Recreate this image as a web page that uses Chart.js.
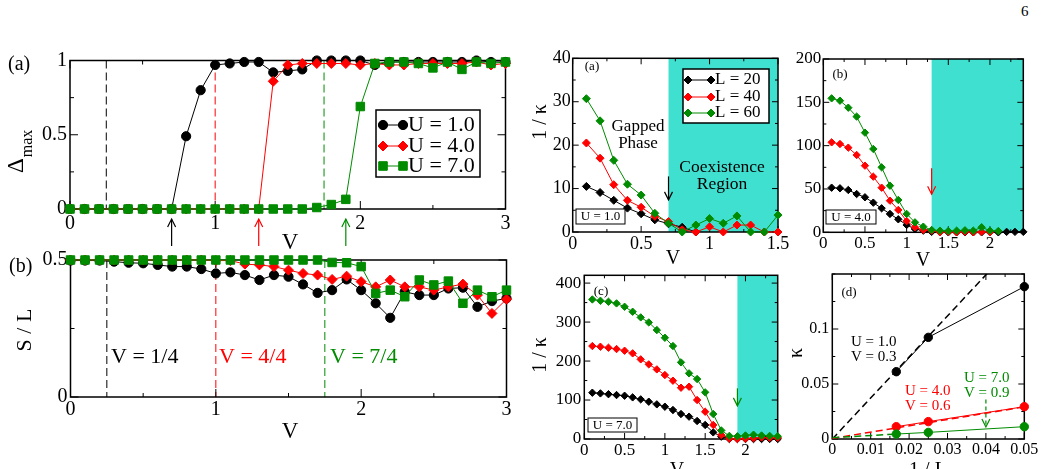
<!DOCTYPE html>
<html>
<head>
<meta charset="utf-8">
<script src="https://cdn.jsdelivr.net/npm/chart.js@4.4.0/dist/chart.umd.min.js"></script>
<style>
  html, body { margin: 0; padding: 0; background: #fff; width: 1044px; height: 469px; overflow: hidden; }
  canvas { position: absolute; left: 0; top: 0; }
  #pageNo { position: absolute; left: 1021px; top: 3px; font: 15px "Liberation Serif", serif; }
</style>
</head>
<body>
<div id="pageNo">6</div>
<canvas id="cLA" width="1044" height="469"></canvas>
<canvas id="cLB" width="1044" height="469"></canvas>
<canvas id="cRA" width="1044" height="469"></canvas>
<canvas id="cRB" width="1044" height="469"></canvas>
<canvas id="cRC" width="1044" height="469"></canvas>
<canvas id="cRD" width="1044" height="469"></canvas>
<script>
const FAM = '"Liberation Serif", "Times New Roman", serif';
const BLACK = '#000000', RED = '#ff0000', GREEN = '#008b00', TEAL = '#40e0d0';

// ---- left column: Delta_max and S/L vs V
const vLeft = [0, 0.1, 0.2, 0.3, 0.4, 0.5, 0.6, 0.7, 0.8, 0.9, 1, 1.1, 1.2, 1.3, 1.4, 1.5,
  1.6, 1.7, 1.8, 1.9, 2, 2.1, 2.2, 2.3, 2.4, 2.5, 2.6, 2.7, 2.8, 2.9, 3];
const dmaxU1 = [0, 0, 0, 0, 0, 0, 0, 0, 0.49, 0.80, 0.97, 0.98, 0.99, 0.99, 0.92, 0.93,
  0.94, 1.0, 1.0, 1.0, 1.0, 0.97, 0.99, 0.99, 0.99, 0.99, 0.99, 0.99, 1.0, 0.99, 0.99];
const dmaxU4 = [0, 0, 0, 0, 0, 0, 0, 0, 0, 0, 0, 0, 0, 0, 0.86, 0.97,
  0.98, 0.98, 0.98, 0.98, 0.97, 0.98, 0.97, 0.97, 0.98, 0.98, 0.98, 0.98, 0.99, 0.97, 0.98];
const dmaxU7 = [0, 0, 0, 0, 0, 0, 0, 0, 0, 0, 0, 0, 0, 0, 0, 0,
  0, 0.01, 0.03, 0.065, 0.69, 0.98, 0.99, 0.99, 0.98, 0.95, 0.99, 0.94, 0.99, 0.98, 0.99];
const slU1 = [0.498, 0.498, 0.498, 0.494, 0.490, 0.488, 0.482, 0.476, 0.476, 0.467, 0.451,
  0.455, 0.445, 0.427, 0.445, 0.439, 0.411, 0.380, 0.390, 0.429, 0.39, 0.342, 0.289,
  0.384, 0.372, 0.372, 0.396, 0.399, 0.329, 0.35, 0.36];
const slU4 = [0.5, 0.5, 0.5, 0.5, 0.5, 0.5, 0.5, 0.5, 0.5, 0.5, 0.498, 0.498, 0.485, 0.482,
  0.476, 0.463, 0.451, 0.445, 0.429, 0.441, 0.421, 0.402, 0.427, 0.402, 0.402, 0.39,
  0.402, 0.412, 0.372, 0.305, 0.357];
const slU7 = [0.5, 0.5, 0.5, 0.5, 0.5, 0.5, 0.5, 0.5, 0.5, 0.5, 0.5, 0.5, 0.5, 0.5, 0.5, 0.5,
  0.5, 0.5, 0.491, 0.49, 0.476, 0.378, 0.39, 0.366, 0.427, 0.409, 0.423, 0.342, 0.39, 0.366, 0.39];
const uLabels = ['U = 1.0', 'U = 4.0', 'U = 7.0'];
const vCrit = [0.25, 1, 1.75];
const vArrow = [0.7, 1.3, 1.9];

// ---- right column: 1/kappa vs V
const vA = [0.1, 0.2, 0.3, 0.4, 0.5, 0.6, 0.7, 0.8, 0.9, 1, 1.1, 1.2, 1.3, 1.4, 1.5];
const ikA20 = [10.5, 9.1, 7.3, 5.5, 4.2, 2.8, 1.9, 1.1, 0];
const ikA40 = [20.5, 17, 10.9, 7.3, 5.7, 3.6, 2.4, 0.5, 0, 1.2, 0, 1.6, 1.6, 0, 0];
const ikA60 = [30.7, 25.6, 16.5, 11, 8.5, 4.3, 2.0, 0, 1.6, 3.1, 2.0, 3.7, 0, 0, 3.9];
const vBC = [0.1, 0.2, 0.3, 0.4, 0.5, 0.6, 0.7, 0.8, 0.9, 1, 1.1, 1.2, 1.3, 1.4, 1.5, 1.6,
  1.7, 1.8, 1.9, 2, 2.1, 2.2, 2.3, 2.4];
const ikB20 = [51.5, 50.8, 48.8, 44.2, 40.4, 34.2, 27.7, 21.2, 15, 8.5, 3.8, 1.9, 0.5, 0, 0, 0,
  0, 0, 0, 0, 0, 0.5, 0.5, 0.5];
const ikB40 = [103.8, 101.9, 97.7, 89.2, 76.9, 64.2, 51.5, 36.5, 25.8, 13, 5.8, 2.7, 1.9, 0,
  0.5, 0, 0.5, 0, 0.5, 0];
const ikB60 = [154.6, 151.9, 143.8, 133.5, 115, 96.2, 75, 53.8, 37.3, 21.2, 11.5, 6.5, 2.7, 1.9,
  1.5, 1.9, 2.3, 1.9, 5.8, 1.9, 1.5];
const ikC20 = [118.8, 117, 115, 112.8, 111, 106.8, 101.7, 95.7, 88.9, 82.9, 74.4, 64.1, 57.3,
  46.2, 36, 17, 6, 0, 0, 0, 0, 0, 0, 0];
const ikC40 = [238.5, 236.8, 234.2, 230.8, 226.5, 219.7, 204.3, 191.5, 178.6, 164.1, 149.6,
  131.6, 134.2, 100, 70, 36, 10.3, 1, 0, 1, 2, 4, 3, 3];
const ikC60 = [358, 354.7, 352.1, 347.9, 339.3, 326.5, 312, 299.1, 279.5, 259.8, 238.5, 196.6,
  168.4, 153.8, 119.7, 64.1, 22, 8, 7, 9, 11, 9, 8, 7];
const lLabels = ['L = 20', 'L = 40', 'L = 60'];
const coexStart = [0.7, 1.3, 1.9];

// ---- (d): kappa vs 1/L
const invL = [1 / 60, 1 / 40, 1 / 20];
const kapU1 = [0.0612, 0.0924, 0.1385];
const kapU4 = [0.0112, 0.0158, 0.0294];
const kapU7 = [0.0045, 0.006, 0.0112];
const fitX = [0, 0.05];
const fitU1 = [0, 0.1865];
const fitU4 = [0.0005, 0.0292];
const fitX7 = [0, 1 / 60];
const fitU7 = [0.0012, 0.0045];

// fixed axis box sizes so every chart area lands where it should
const YW = 40, XH = 28;

function series(xs, ys, color, style, r, extra) {
  return Object.assign({
    data: ys.map((y, i) => ({ x: xs[i], y: y })),
    borderColor: color, backgroundColor: color, borderWidth: 1,
    pointStyle: style, pointRadius: r, pointBorderWidth: 1,
    showLine: true, clip: false
  }, extra || {});
}

function text(ctx, s, x, y, o) {
  o = o || {};
  ctx.save();
  ctx.font = (o.size || 16) + 'px ' + FAM;
  ctx.fillStyle = o.color || BLACK;
  ctx.textAlign = o.align || 'left';
  ctx.textBaseline = 'middle';
  if (o.rot) { ctx.translate(x, y); ctx.rotate(-Math.PI / 2); ctx.fillText(s, 0, 0); }
  else ctx.fillText(s, x, y);
  ctx.restore();
}

function arrow(ctx, x, y0, y1, color, dashed) {
  ctx.save();
  ctx.strokeStyle = color; ctx.lineWidth = 1.2;
  if (dashed) ctx.setLineDash([4, 3]);
  ctx.beginPath(); ctx.moveTo(x, y0); ctx.lineTo(x, y1); ctx.stroke();
  ctx.setLineDash([]);
  const d = y1 > y0 ? -1 : 1;
  ctx.beginPath();
  ctx.moveTo(x - 4, y1 + d * 8); ctx.lineTo(x, y1); ctx.lineTo(x + 4, y1 + d * 8);
  ctx.stroke();
  ctx.restore();
}

function boxLabel(ctx, s, l, t, r, b, size) {
  ctx.save();
  ctx.strokeStyle = BLACK; ctx.lineWidth = 1;
  ctx.fillStyle = '#fff';
  ctx.fillRect(l, t, r - l, b - t);
  ctx.strokeRect(l, t, r - l, b - t);
  ctx.restore();
  text(ctx, s, (l + r) / 2, (t + b) / 2 + 0.5, { size: size, align: 'center' });
}

function legend(ctx, chart, order, box, rows, x0, x1, tx, size) {
  ctx.save();
  ctx.fillStyle = '#fff';
  ctx.fillRect(box[0], box[1], box[2] - box[0], box[3] - box[1]);
  ctx.strokeStyle = BLACK; ctx.lineWidth = 1.5;
  ctx.strokeRect(box[0], box[1], box[2] - box[0], box[3] - box[1]);
  order.forEach((di, k) => {
    const ds = chart.data.datasets[di];
    const y = rows[k];
    ctx.strokeStyle = ds.borderColor; ctx.lineWidth = 1;
    ctx.beginPath(); ctx.moveTo(x0, y); ctx.lineTo(x1, y); ctx.stroke();
    [x0, x1].forEach(px => {
      ctx.fillStyle = ds.backgroundColor;
      ctx.beginPath();
      Chart.helpers.drawPoint(ctx, { pointStyle: ds.pointStyle, radius: ds.pointRadius, borderWidth: 1 }, px, y);
      ctx.fill();
    });
    text(ctx, ds.label, tx, y, { size: size });
  });
  ctx.restore();
}

function frameAndTicks(ctx, a, sx, sy, p) {
  ctx.save();
  ctx.strokeStyle = BLACK;
  ctx.lineWidth = 1.5;
  ctx.strokeRect(a.left, a.top, a.right - a.left, a.bottom - a.top);
  ctx.lineWidth = 1;
  const near = (v, arr) => arr.some(m => Math.abs(m - v) < 1e-9);
  const mk = (scale, ticks, minor, horiz) => {
    const lst = [];
    ticks.forEach(v => lst.push([v, p.tMaj]));
    for (let v = scale.min; v <= scale.max + 1e-9; v += minor) {
      if (!near(v, ticks)) lst.push([v, p.tMin]);
    }
    lst.forEach(([v, len]) => {
      const q = scale.getPixelForValue(v);
      ctx.beginPath();
      if (horiz) {
        ctx.moveTo(q, a.bottom); ctx.lineTo(q, a.bottom - len);
        ctx.moveTo(q, a.top); ctx.lineTo(q, a.top + len);
      } else {
        ctx.moveTo(a.left, q); ctx.lineTo(a.left + len, q);
        ctx.moveTo(a.right, q); ctx.lineTo(a.right - len, q);
      }
      ctx.stroke();
    });
  };
  mk(sx, p.xTicks, p.xMinor, true);
  mk(sy, p.yTicks, p.yMinor, false);
  ctx.restore();
}

function makePanel(p) {
  const plugin = {
    id: 'panel' + p.id,
    beforeDatasetsDraw(chart) {
      const { ctx, chartArea: a } = chart;
      const sx = chart.scales.x, sy = chart.scales.y;
      if (p.region != null) {
        const x0 = sx.getPixelForValue(p.region);
        ctx.save(); ctx.fillStyle = TEAL;
        ctx.fillRect(x0, a.top, a.right - x0, a.bottom - a.top);
        ctx.restore();
      }
      if (p.before) p.before(ctx, chart, sx, sy, a);
      frameAndTicks(ctx, a, sx, sy, p);
    },
    afterDatasetsDraw(chart) {
      if (p.after) p.after(chart.ctx, chart, chart.scales.x, chart.scales.y, chart.chartArea);
    }
  };
  const tickFont = { family: FAM, size: p.tickSize };
  new Chart(document.getElementById(p.id), {
    type: 'scatter',
    data: { datasets: p.datasets },
    options: {
      responsive: false, animation: false,
      layout: { padding: { left: p.area[0] - YW, top: p.area[1], right: 1044 - p.area[2], bottom: 469 - p.area[3] - XH } },
      plugins: { legend: { display: false }, tooltip: { enabled: false } },
      scales: {
        x: {
          type: 'linear', min: p.xRange[0], max: p.xRange[1],
          grid: { display: false, drawTicks: false }, border: { display: false },
          ticks: { font: tickFont, color: BLACK, padding: p.xPad, autoSkip: false, maxRotation: 0, callback: v => String(v) },
          afterBuildTicks: s => { s.ticks = p.xTicks.map(v => ({ value: v })); },
          afterFit: s => { s.height = XH; s.paddingLeft = 0; s.paddingRight = 0; }
        },
        y: {
          type: 'linear', min: p.yRange[0], max: p.yRange[1],
          grid: { display: false, drawTicks: false }, border: { display: false },
          ticks: { font: tickFont, color: BLACK, padding: p.yPad, autoSkip: false, callback: v => String(v) },
          afterBuildTicks: s => { s.ticks = p.yTicks.map(v => ({ value: v })); },
          afterFit: s => { s.width = YW; s.paddingTop = 0; s.paddingBottom = 0; }
        }
      }
    },
    plugins: [plugin]
  });
}

function dashedV(ctx, sx, a, vals, colors) {
  ctx.save(); ctx.lineWidth = 1; ctx.setLineDash([8, 4]);
  vals.forEach((v, i) => {
    const q = sx.getPixelForValue(v);
    ctx.strokeStyle = colors[i];
    ctx.beginPath(); ctx.moveTo(q, a.top); ctx.lineTo(q, a.bottom); ctx.stroke();
  });
  ctx.restore();
}

const uColors = [BLACK, RED, GREEN];

// ---------- left (a)
makePanel({
  id: 'cLA', area: [70, 60.5, 505.5, 209], xRange: [0, 3], yRange: [0, 1],
  xTicks: [0, 1, 2, 3], yTicks: [0, 0.5, 1], xMinor: 0.5, yMinor: 0.25,
  tickSize: 20, xPad: 3, yPad: 3, tMaj: 8, tMin: 4,
  datasets: [
    series(vLeft, dmaxU7, GREEN, 'rect', 6, { label: uLabels[2] }),
    series(vLeft, dmaxU4, RED, 'rectRot', 5, { label: uLabels[1] }),
    series(vLeft, dmaxU1, BLACK, 'circle', 4.6, { label: uLabels[0] })
  ],
  before: (ctx, chart, sx, sy, a) => dashedV(ctx, sx, a, vCrit, uColors),
  after: (ctx, chart, sx, sy, a) => {
    legend(ctx, chart, [2, 1, 0], [376, 110, 480, 177], [125, 146, 166], 383, 403, 408, 22);
    vArrow.forEach((v, i) => arrow(ctx, sx.getPixelForValue(v), 246, 219, uColors[i]));
    text(ctx, 'V', 290, 243, { size: 23, align: 'center' });
    text(ctx, '(a)', 8, 65, { size: 20 });
    ctx.save();
    ctx.translate(23, 173); ctx.rotate(-Math.PI / 2);
    ctx.fillStyle = BLACK; ctx.textBaseline = 'alphabetic';
    ctx.font = '23px ' + FAM; ctx.fillText('\u0394', 0, 0);
    const w = ctx.measureText('\u0394').width;
    ctx.font = '16px ' + FAM; ctx.fillText('max', w + 1, 9);
    ctx.restore();
  }
});

// ---------- left (b)
makePanel({
  id: 'cLB', area: [70.5, 260, 506.5, 397], xRange: [0, 3], yRange: [0, 0.5],
  xTicks: [0, 1, 2, 3], yTicks: [0, 0.5], xMinor: 0.5, yMinor: 0.25,
  tickSize: 20, xPad: 1, yPad: 3, tMaj: 8, tMin: 4,
  datasets: [
    series(vLeft, slU7, GREEN, 'rect', 6, { label: uLabels[2] }),
    series(vLeft, slU4, RED, 'rectRot', 5, { label: uLabels[1] }),
    series(vLeft, slU1, BLACK, 'circle', 4.6, { label: uLabels[0] })
  ],
  before: (ctx, chart, sx, sy, a) => dashedV(ctx, sx, a, vCrit, uColors),
  after: (ctx) => {
    text(ctx, 'V = 1/4', 111, 357, { size: 22 });
    text(ctx, 'V = 4/4', 219, 357, { size: 22, color: RED });
    text(ctx, 'V = 7/4', 330, 357, { size: 22, color: GREEN });
    text(ctx, 'V', 290, 432, { size: 23, align: 'center' });
    text(ctx, '(b)', 9, 267, { size: 20 });
    text(ctx, 'S / L', 25, 330, { size: 22, align: 'center', rot: true });
  }
});

// ---------- right (a)
makePanel({
  id: 'cRA', area: [572.7, 58.3, 778, 232], xRange: [0, 1.5], yRange: [0, 40],
  xTicks: [0, 0.5, 1, 1.5], yTicks: [0, 10, 20, 30, 40], xMinor: 0.25, yMinor: 5,
  tickSize: 18, xPad: 1, yPad: 2, tMaj: 6, tMin: 3, region: coexStart[0],
  datasets: [
    series(vA, ikA60, GREEN, 'rectRot', 4, { label: lLabels[2] }),
    series(vA, ikA40, RED, 'rectRot', 4, { label: lLabels[1] }),
    series(vA, ikA20, BLACK, 'rectRot', 4, { label: lLabels[0] })
  ],
  after: (ctx, chart, sx, sy) => {
    legend(ctx, chart, [2, 1, 0], [683, 69, 769, 123], [80, 97, 113], 688, 711, 715, 17);
    text(ctx, 'Gapped', 638, 127, { size: 17, align: 'center' });
    text(ctx, 'Phase', 638, 144, { size: 17, align: 'center' });
    text(ctx, 'Coexistence', 722, 167, { size: 17.5, align: 'center' });
    text(ctx, 'Region', 722, 184, { size: 17.5, align: 'center' });
    arrow(ctx, sx.getPixelForValue(coexStart[0]), sy.getPixelForValue(12.8), sy.getPixelForValue(7.4), BLACK);
    boxLabel(ctx, 'U = 1.0', 576, 209, 625, 224, 13);
    text(ctx, '(a)', 592, 67, { size: 13, align: 'center' });
    text(ctx, 'V', 673, 259, { size: 20, align: 'center' });
    text(ctx, '1 / \u03ba', 541, 122, { size: 20, align: 'center', rot: true });
  }
});

// ---------- right (b)
makePanel({
  id: 'cRB', area: [823.3, 59, 1023.3, 232.3], xRange: [0, 2.4], yRange: [0, 200],
  xTicks: [0, 0.5, 1, 1.5, 2], yTicks: [0, 50, 100, 150, 200], xMinor: 0.25, yMinor: 25,
  tickSize: 17, xPad: 1, yPad: 2, tMaj: 6, tMin: 3, region: coexStart[1],
  datasets: [
    series(vBC, ikB60, GREEN, 'rectRot', 3.7, { label: lLabels[2] }),
    series(vBC, ikB40, RED, 'rectRot', 3.7, { label: lLabels[1] }),
    series(vBC, ikB20, BLACK, 'rectRot', 3.7, { label: lLabels[0] })
  ],
  after: (ctx, chart, sx, sy) => {
    arrow(ctx, sx.getPixelForValue(coexStart[1]), sy.getPixelForValue(74), sy.getPixelForValue(44), RED);
    boxLabel(ctx, 'U = 4.0', 826, 210, 876, 224, 13);
    text(ctx, '(b)', 840, 75, { size: 13, align: 'center' });
    text(ctx, 'V', 923, 261, { size: 20, align: 'center' });
  }
});

// ---------- right (c)
makePanel({
  id: 'cRC', area: [584.3, 275.3, 777.7, 439], xRange: [0, 2.4], yRange: [0, 420],
  xTicks: [0, 0.5, 1, 1.5, 2], yTicks: [0, 100, 200, 300, 400], xMinor: 0.25, yMinor: 50,
  tickSize: 17, xPad: 1, yPad: 3, tMaj: 6, tMin: 3, region: coexStart[2],
  datasets: [
    series(vBC, ikC60, GREEN, 'rectRot', 3.7, { label: lLabels[2] }),
    series(vBC, ikC40, RED, 'rectRot', 3.7, { label: lLabels[1] }),
    series(vBC, ikC20, BLACK, 'rectRot', 3.7, { label: lLabels[0] })
  ],
  after: (ctx, chart, sx, sy) => {
    arrow(ctx, sx.getPixelForValue(coexStart[2]), sy.getPixelForValue(130), sy.getPixelForValue(85), GREEN);
    boxLabel(ctx, 'U = 7.0', 588, 418, 637, 432, 13);
    text(ctx, '(c)', 601, 292, { size: 13, align: 'center' });
    text(ctx, 'V', 677, 471, { size: 20, align: 'center' });
    text(ctx, '1 / \u03ba', 541, 355, { size: 20, align: 'center', rot: true });
  }
});

// ---------- right (d)
makePanel({
  id: 'cRD', area: [832.3, 274, 1024.3, 439], xRange: [0, 0.05], yRange: [0, 0.15],
  xTicks: [0, 0.01, 0.02, 0.03, 0.04, 0.05], yTicks: [0, 0.05, 0.1], xMinor: 0.005, yMinor: 0.025,
  tickSize: 16, xPad: 1, yPad: 3, tMaj: 6, tMin: 3,
  datasets: [
    series(invL, kapU7, GREEN, 'circle', 4.2),
    series(invL, kapU4, RED, 'circle', 4.2),
    series(invL, kapU1, BLACK, 'circle', 4.2),
    series(fitX7, fitU7, GREEN, false, 0, { borderWidth: 1.5, borderDash: [7, 4], clip: 0 }),
    series(fitX, fitU4, RED, false, 0, { borderWidth: 1.5, borderDash: [7, 4], clip: 0 }),
    series(fitX, fitU1, BLACK, false, 0, { borderWidth: 1.5, borderDash: [7, 4], clip: 0 })
  ],
  after: (ctx, chart, sx, sy) => {
    text(ctx, 'U = 1.0', 851, 342, { size: 15 });
    text(ctx, 'V = 0.3', 851, 357, { size: 15 });
    text(ctx, 'U = 4.0', 905, 391, { size: 15, color: RED });
    text(ctx, 'V = 0.6', 905, 406, { size: 15, color: RED });
    text(ctx, 'U = 7.0', 964, 378, { size: 15, color: GREEN });
    text(ctx, 'V = 0.9', 964, 393, { size: 15, color: GREEN });
    arrow(ctx, sx.getPixelForValue(0.04), sy.getPixelForValue(0.036), sy.getPixelForValue(0.011), GREEN, true);
    text(ctx, '(d)', 849, 293, { size: 13, align: 'center' });
    text(ctx, '\u03ba', 797, 353, { size: 20, align: 'center', rot: true });
    text(ctx, '1 / L', 928, 471, { size: 20, align: 'center' });
  }
});
</script>
</body>
</html>
